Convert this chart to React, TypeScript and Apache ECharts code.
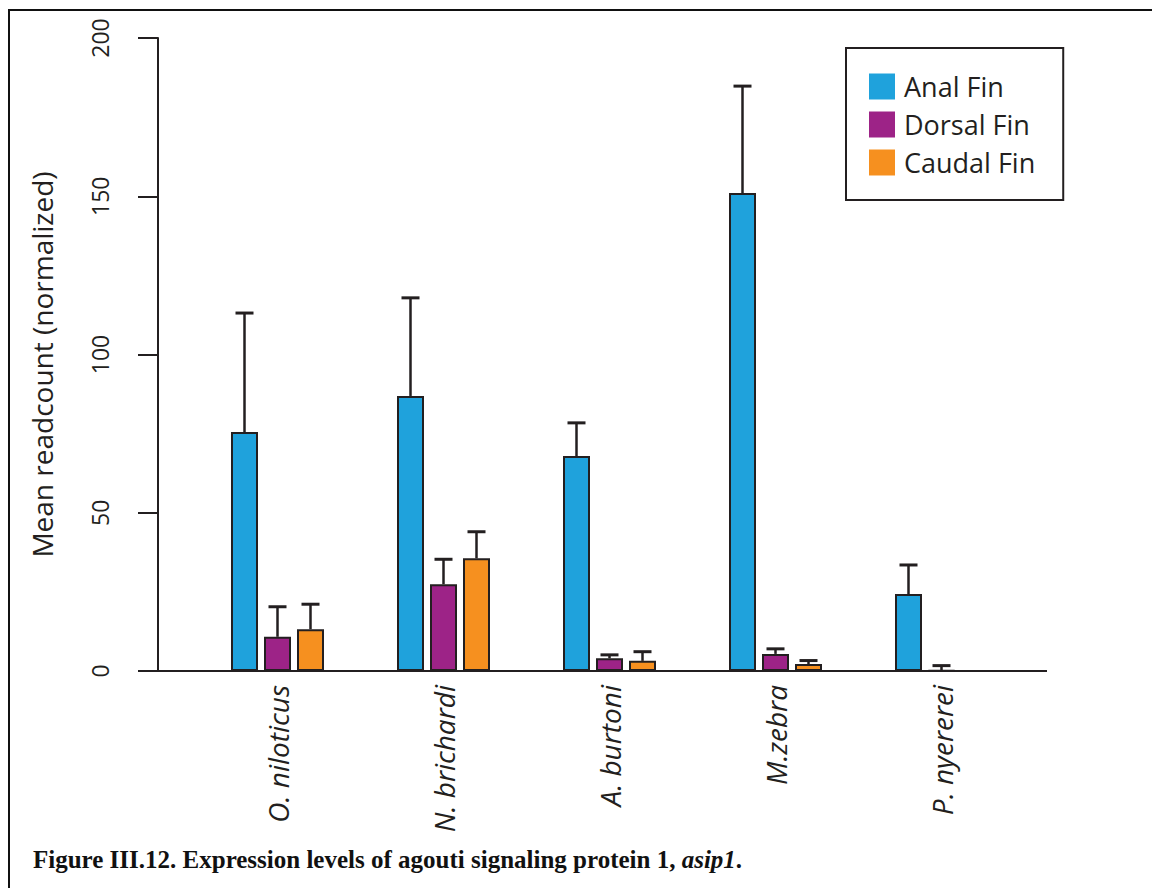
import React, { useEffect, useRef } from "react";
import * as echarts from "echarts";

const categories = ["O. niloticus", "N. brichardi", "A. burtoni", "M.zebra", "P. nyererei"];
const seriesNames = ["Anal Fin", "Dorsal Fin", "Caudal Fin"];
const analFin = [75.5, 86.9, 67.9, 151.0, 24.3];
const analErr = [37.6, 31.0, 10.5, 33.8, 9.2];
const dorsalFin = [10.8, 27.4, 4.0, 5.4, 0.2];
const dorsalErr = [9.5, 7.9, 1.1, 1.6, 1.5];
const caudalFin = [13.2, 35.6, 3.2, 2.2, 0];
const caudalErr = [7.9, 8.4, 2.9, 1.1, 0];
const yTicks = [0, 50, 100, 150, 200];
const colors = ["#1fa2dc", "#9d2387", "#f6901f"];

const FONT = "Open Sans";

export default function App() {
  const ref = useRef<HTMLDivElement>(null);
  useEffect(() => {
    document.body.style.margin = "0";
    const chart = echarts.init(ref.current!, null, { renderer: "svg" });
    const values = [analFin, dorsalFin, caudalFin];
    const errs = [analErr, dorsalErr, caudalErr];
    const barW = 27;
    const gapPx = 6;
    const offsets = [-(barW + gapPx), 0, barW + gapPx];

    const barSeries = seriesNames.map((name, k) => ({
      name,
      type: "bar",
      data: values[k],
      barWidth: barW,
      barGap: (gapPx / barW) * 100 + "%",
      itemStyle: { color: colors[k], borderColor: "#231f20", borderWidth: 2 },
      z: 2,
    }));

    const errSeries = seriesNames.map((name, k) => ({
      name: name + " err",
      type: "custom",
      z: 3,
      data: values[k].map((v, i) => [i, v, errs[k][i]]),
      encode: { x: 0, y: 1 },
      renderItem: (params: any, api: any) => {
        const x = api.value(0);
        const v = api.value(1);
        const e = api.value(2);
        if (!e) return null;
        const p0 = api.coord([x, v]);
        const p1 = api.coord([x, v + e]);
        const cx = p0[0] + offsets[k];
        const st = { stroke: "#231f20", lineWidth: 2.5 };
        return {
          type: "group",
          children: [
            { type: "line", shape: { x1: cx, y1: p0[1], x2: cx, y2: p1[1] }, style: st },
            { type: "line", shape: { x1: cx - 9, y1: p1[1], x2: cx + 9, y2: p1[1] }, style: { stroke: "#231f20", lineWidth: 3 } },
          ],
        };
      },
    }));

    chart.setOption({
      animation: false,
      backgroundColor: "#ffffff",
      textStyle: { fontFamily: FONT },
      title: {
        left: 28,
        top: 842,
        text: "{b|Figure III.12. Expression levels of agouti signaling protein 1, }{i|asip1}{b|.}",
        textStyle: {
          rich: {
            b: { fontFamily: "Liberation Serif", fontWeight: "bold", fontSize: 25, color: "#111" },
            i: { fontFamily: "Liberation Serif", fontWeight: "bold", fontStyle: "italic", fontSize: 25, color: "#111" },
          },
        },
      },
      legend: {
        data: seriesNames,
        orient: "vertical",
        left: 846,
        top: 48,
        padding: [25, 28, 24, 23],
        itemWidth: 26,
        itemHeight: 26,
        itemGap: 11,
        icon: "rect",
        borderColor: "#231f20",
        borderWidth: 2,
        borderRadius: 0,
        itemStyle: { borderWidth: 0 },
        textStyle: { fontFamily: FONT, fontSize: 27, color: "#231f20", padding: [0, 0, 0, 4] },
      },
      grid: { left: 194.5, right: 127.5, top: 38, bottom: 217, containLabel: false },
      xAxis: {
        type: "category",
        data: categories,
        axisLine: { show: false },
        axisTick: { show: false },
        axisLabel: {
          rotate: 90,
          fontStyle: "italic",
          fontSize: 28,
          color: "#231f20",
          fontFamily: FONT,
          margin: 14,
        },
      },
      yAxis: {
        type: "value",
        min: 0,
        max: 200,
        interval: 50,
        offset: 36.5,
        name: "Mean readcount (normalized)",
        nameLocation: "middle",
        nameGap: 102,
        nameTextStyle: { fontSize: 28, color: "#231f20", fontFamily: FONT, padding: [0, 20, 0, 0] },
        axisLine: { show: true, lineStyle: { color: "#231f20", width: 2 } },
        axisTick: { show: true, inside: false, length: 20, lineStyle: { color: "#231f20", width: 2 } },
        splitLine: { show: false },
        axisLabel: {
          rotate: 90,
          fontSize: 23,
          color: "#231f20",
          fontFamily: FONT,
          margin: 47,
          formatter: (v: number) => (yTicks.indexOf(v) >= 0 ? String(v) : ""),
        },
      },
      graphic: [
        { type: "line", shape: { x1: 157, y1: 671, x2: 1047, y2: 671 }, style: { stroke: "#231f20", lineWidth: 2 }, z: 1 },
        { type: "line", shape: { x1: 8, y1: 10, x2: 1152, y2: 10 }, style: { stroke: "#111", lineWidth: 2 } },
        { type: "line", shape: { x1: 9, y1: 10, x2: 9, y2: 888 }, style: { stroke: "#111", lineWidth: 2 } },
      ],
      series: [...barSeries, ...errSeries],
    });
    return () => chart.dispose();
  }, []);
  return <div ref={ref} style={{ position: "absolute", left: 0, top: 0, width: 1152, height: 888 }} />;
}
